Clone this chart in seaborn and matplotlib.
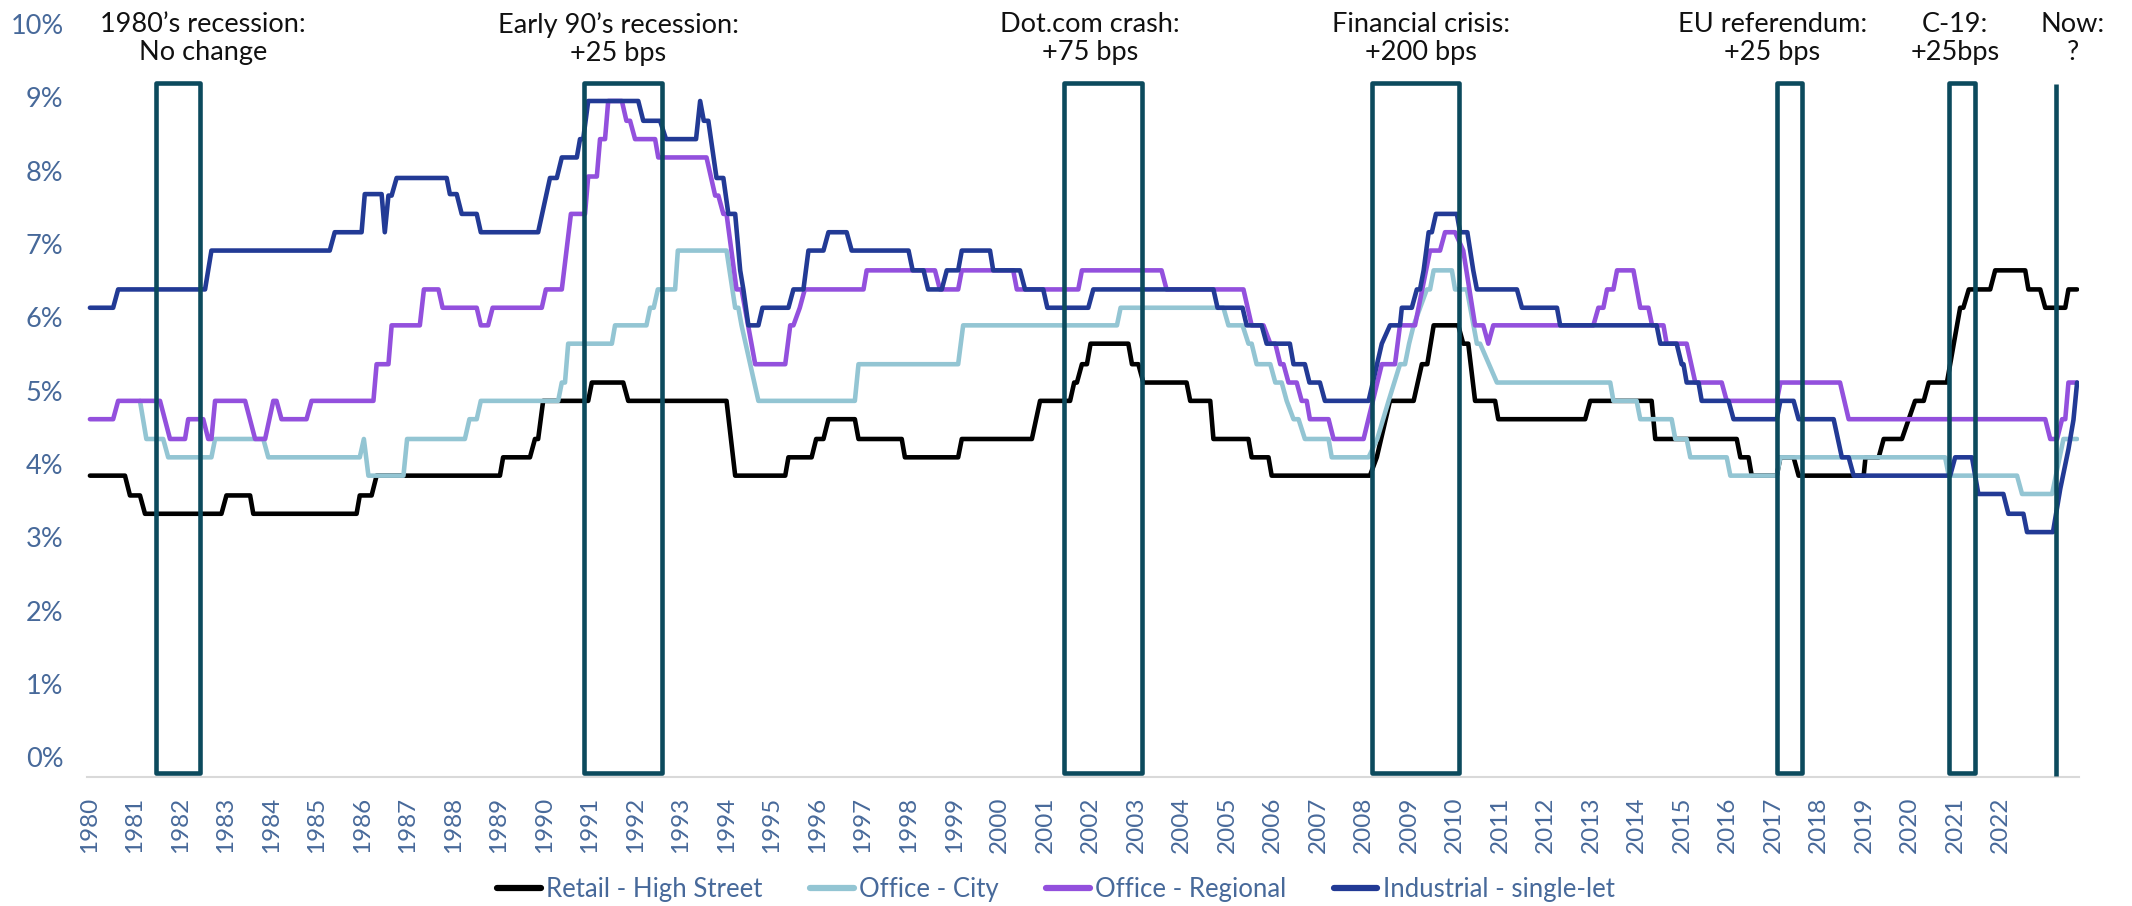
import matplotlib
matplotlib.use("Agg")
import matplotlib.pyplot as plt
from matplotlib.lines import Line2D
from matplotlib.patches import Rectangle
import seaborn as sns
import pandas as pd

# ---- data (yields in %) ----
retail_years = [1980.01, 1980.78, 1980.89, 1981.11, 1981.22, 1982.90, 1983.01, 1983.53, 1983.60, 1985.87,
                1985.94, 1986.20, 1986.31, 1989.02, 1989.09, 1989.68, 1989.79, 1989.86, 1989.97, 1990.96,
                1991.04, 1991.73, 1991.84, 1994.00, 1994.19, 1995.29, 1995.36, 1995.87, 1995.97, 1996.13,
                1996.24, 1996.82, 1996.90, 1997.85, 1997.92, 1999.09, 1999.17, 2000.71, 2000.89, 2001.55,
                2001.64, 2001.70, 2001.81, 2001.92, 2002.00, 2002.83, 2002.91, 2003.05, 2003.16, 2004.11,
                2004.19, 2004.63, 2004.70, 2005.47, 2005.54, 2005.91, 2005.98, 2008.14, 2008.29, 2008.58,
                2009.10, 2009.28, 2009.40, 2009.54, 2010.08, 2010.19, 2010.30, 2010.45, 2010.89, 2010.96,
                2012.87, 2012.98, 2014.33, 2014.41, 2016.20, 2016.28, 2016.46, 2016.53, 2017.08, 2017.16,
                2017.45, 2017.56, 2018.99, 2019.03, 2019.32, 2019.43, 2019.83, 2019.98, 2020.12, 2020.31,
                2020.42, 2020.82, 2020.97, 2021.11, 2021.18, 2021.30, 2021.77, 2021.88, 2022.54, 2022.61,
                2022.87, 2022.98, 2023.42, 2023.49, 2023.68]
retail_yield = [3.84, 3.84, 3.57, 3.57, 3.32, 3.32, 3.57, 3.57, 3.32, 3.32,
                3.57, 3.57, 3.84, 3.84, 4.09, 4.09, 4.34, 4.34, 4.86, 4.86,
                5.11, 5.11, 4.86, 4.86, 3.84, 3.84, 4.09, 4.09, 4.34, 4.34,
                4.61, 4.61, 4.34, 4.34, 4.09, 4.09, 4.34, 4.34, 4.86, 4.86,
                5.11, 5.11, 5.36, 5.36, 5.64, 5.64, 5.36, 5.36, 5.11, 5.11,
                4.86, 4.86, 4.34, 4.34, 4.09, 4.09, 3.84, 3.84, 4.09, 4.86,
                4.86, 5.36, 5.36, 5.89, 5.89, 5.64, 5.64, 4.86, 4.86, 4.61,
                4.61, 4.86, 4.86, 4.34, 4.34, 4.09, 4.09, 3.84, 3.84, 4.09,
                4.09, 3.84, 3.84, 4.09, 4.09, 4.34, 4.34, 4.61, 4.86, 4.86,
                5.11, 5.11, 5.64, 6.13, 6.13, 6.38, 6.38, 6.64, 6.64, 6.38,
                6.38, 6.13, 6.13, 6.38, 6.38]

city_years = [1981.11, 1981.25, 1981.62, 1981.73, 1982.68, 1982.76, 1983.82, 1983.93, 1985.94, 1986.03,
              1986.13, 1986.90, 1986.98, 1988.25, 1988.35, 1988.51, 1988.60, 1990.30, 1990.38, 1990.45,
              1990.52, 1991.48, 1991.55, 1992.24, 1992.32, 1992.40, 1992.49, 1992.87, 1992.93, 1994.00,
              1994.19, 1994.26, 1994.33, 1994.70, 1996.82, 1996.90, 1999.09, 1999.20, 2002.58, 2002.66,
              2004.92, 2005.03, 2005.34, 2005.47, 2005.54, 2005.65, 2005.95, 2006.06, 2006.20, 2006.31,
              2006.46, 2006.57, 2006.71, 2007.23, 2007.30, 2008.11, 2008.30, 2008.55, 2008.80, 2008.91,
              2009.00, 2009.10, 2009.39, 2009.46, 2009.54, 2009.94, 2010.01, 2010.27, 2010.49, 2010.56,
              2010.93, 2013.42, 2013.49, 2014.00, 2014.08, 2014.77, 2014.85, 2015.10, 2015.18, 2015.98,
              2016.06, 2017.08, 2017.16, 2020.78, 2020.86, 2022.36, 2022.47, 2023.13, 2023.38, 2023.68]
city_yield = [4.86, 4.34, 4.34, 4.09, 4.09, 4.34, 4.34, 4.09, 4.09, 4.34,
              3.84, 3.84, 4.34, 4.34, 4.61, 4.61, 4.86, 4.86, 5.11, 5.11,
              5.64, 5.64, 5.89, 5.89, 6.13, 6.13, 6.38, 6.38, 6.91, 6.91,
              6.13, 6.13, 5.89, 4.86, 4.86, 5.36, 5.36, 5.89, 5.89, 6.13,
              6.13, 5.89, 5.89, 5.64, 5.64, 5.36, 5.36, 5.11, 5.11, 4.86,
              4.61, 4.61, 4.34, 4.34, 4.09, 4.09, 4.34, 4.86, 5.36, 5.36,
              5.64, 5.89, 6.38, 6.38, 6.64, 6.64, 6.38, 6.38, 5.64, 5.64,
              5.11, 5.11, 4.86, 4.86, 4.61, 4.61, 4.34, 4.34, 4.09, 4.09,
              3.84, 3.84, 4.09, 4.09, 3.84, 3.84, 3.59, 3.59, 4.34, 4.34]

regional_years = [1980.01, 1980.52, 1980.63, 1981.55, 1981.77, 1982.10, 1982.17, 1982.50, 1982.61, 1982.68,
                  1982.76, 1983.42, 1983.64, 1983.86, 1984.04, 1984.11, 1984.22, 1984.77, 1984.88, 1986.24,
                  1986.31, 1986.57, 1986.64, 1987.26, 1987.35, 1987.67, 1987.76, 1988.51, 1988.60, 1988.76,
                  1988.86, 1989.94, 1990.03, 1990.38, 1990.58, 1990.89, 1990.96, 1991.15, 1991.22, 1991.33,
                  1991.40, 1991.70, 1991.80, 1991.88, 1991.99, 1992.43, 1992.50, 1993.56, 1993.75, 1993.82,
                  1993.93, 1994.00, 1994.22, 1994.33, 1994.63, 1995.29, 1995.40, 1995.47, 1995.61, 1995.72,
                  1997.01, 1997.08, 1998.58, 1998.69, 1999.09, 1999.17, 2000.30, 2000.38, 2001.73, 2001.81,
                  2003.56, 2003.67, 2005.36, 2005.54, 2005.80, 2005.95, 2006.06, 2006.17, 2006.24, 2006.35,
                  2006.53, 2006.64, 2006.75, 2006.82, 2007.23, 2007.34, 2008.00, 2008.40, 2008.69, 2008.80,
                  2009.13, 2009.46, 2009.68, 2009.79, 2010.01, 2010.19, 2010.45, 2010.63, 2010.74, 2010.85,
                  2013.05, 2013.16, 2013.27, 2013.35, 2013.49, 2013.57, 2013.93, 2014.08, 2014.26, 2014.34,
                  2014.59, 2014.66, 2015.10, 2015.29, 2015.87, 2015.98, 2017.08, 2017.16, 2018.47, 2018.66,
                  2022.98, 2023.09, 2023.24, 2023.35, 2023.42, 2023.49, 2023.68]
regional_yield = [4.61, 4.61, 4.86, 4.86, 4.34, 4.34, 4.61, 4.61, 4.34, 4.34,
                  4.86, 4.86, 4.34, 4.34, 4.86, 4.86, 4.61, 4.61, 4.86, 4.86,
                  5.36, 5.36, 5.89, 5.89, 6.38, 6.38, 6.13, 6.13, 5.89, 5.89,
                  6.13, 6.13, 6.38, 6.38, 7.41, 7.41, 7.92, 7.92, 8.43, 8.43,
                  8.95, 8.95, 8.68, 8.68, 8.43, 8.43, 8.18, 8.18, 7.66, 7.66,
                  7.41, 7.41, 6.38, 6.38, 5.36, 5.36, 5.89, 5.89, 6.13, 6.38,
                  6.38, 6.64, 6.64, 6.38, 6.38, 6.64, 6.64, 6.38, 6.38, 6.64,
                  6.64, 6.38, 6.38, 5.89, 5.89, 5.64, 5.64, 5.36, 5.36, 5.11,
                  5.11, 4.86, 4.86, 4.61, 4.61, 4.34, 4.34, 5.36, 5.36, 5.89,
                  5.89, 6.91, 6.91, 7.16, 7.16, 6.91, 5.89, 5.89, 5.64, 5.89,
                  5.89, 6.13, 6.13, 6.38, 6.38, 6.64, 6.64, 6.13, 6.13, 5.89,
                  5.89, 5.64, 5.64, 5.11, 5.11, 4.86, 4.86, 5.11, 5.11, 4.61,
                  4.61, 4.34, 4.34, 4.61, 4.61, 5.11, 5.11]

industrial_years = [1980.01, 1980.52, 1980.63, 1982.54, 1982.68, 1985.28, 1985.39, 1985.98, 1986.05, 1986.42,
                    1986.49, 1986.57, 1986.64, 1986.75, 1987.85, 1987.92, 1988.07, 1988.18, 1988.51, 1988.60,
                    1989.86, 1990.12, 1990.27, 1990.38, 1990.71, 1990.78, 1990.85, 1990.96, 1992.06, 1992.17,
                    1992.54, 1992.67, 1993.33, 1993.42, 1993.50, 1993.60, 1993.78, 1993.93, 1994.04, 1994.19,
                    1994.30, 1994.37, 1994.48, 1994.70, 1994.79, 1995.36, 1995.47, 1995.69, 1995.80, 1996.13,
                    1996.24, 1996.64, 1996.75, 1998.00, 1998.09, 1998.33, 1998.43, 1998.73, 1998.84, 1999.09,
                    1999.17, 1999.79, 1999.86, 2000.45, 2000.56, 2000.96, 2001.05, 2001.95, 2002.06, 2004.70,
                    2004.79, 2005.34, 2005.43, 2005.76, 2005.87, 2006.38, 2006.46, 2006.71, 2006.81, 2007.04,
                    2007.15, 2008.11, 2008.40, 2008.58, 2008.80, 2008.84, 2009.06, 2009.17, 2009.24, 2009.32,
                    2009.43, 2009.50, 2009.59, 2010.05, 2010.12, 2010.28, 2010.41, 2010.49, 2011.37, 2011.48,
                    2012.25, 2012.32, 2014.44, 2014.52, 2014.88, 2014.99, 2015.03, 2015.10, 2015.36, 2015.43,
                    2016.02, 2016.13, 2017.08, 2017.16, 2017.45, 2017.56, 2018.33, 2018.51, 2018.66, 2018.77,
                    2020.89, 2021.00, 2021.37, 2021.51, 2022.06, 2022.17, 2022.50, 2022.58, 2023.15, 2023.31,
                    2023.49, 2023.60, 2023.68]
industrial_yield = [6.13, 6.13, 6.38, 6.38, 6.91, 6.91, 7.16, 7.16, 7.68, 7.68,
                    7.16, 7.66, 7.66, 7.90, 7.90, 7.68, 7.68, 7.41, 7.41, 7.16,
                    7.16, 7.90, 7.90, 8.18, 8.18, 8.43, 8.43, 8.95, 8.95, 8.68,
                    8.68, 8.43, 8.43, 8.95, 8.68, 8.68, 7.90, 7.90, 7.41, 7.41,
                    6.64, 6.38, 5.89, 5.89, 6.13, 6.13, 6.38, 6.38, 6.91, 6.91,
                    7.16, 7.16, 6.91, 6.91, 6.64, 6.64, 6.38, 6.38, 6.64, 6.64,
                    6.91, 6.91, 6.64, 6.64, 6.38, 6.38, 6.13, 6.13, 6.38, 6.38,
                    6.13, 6.13, 5.89, 5.89, 5.64, 5.64, 5.36, 5.36, 5.11, 5.11,
                    4.86, 4.86, 5.64, 5.89, 5.89, 6.13, 6.13, 6.38, 6.38, 6.64,
                    7.16, 7.16, 7.41, 7.41, 7.16, 7.16, 6.64, 6.38, 6.38, 6.13,
                    6.13, 5.89, 5.89, 5.64, 5.64, 5.36, 5.36, 5.11, 5.11, 4.86,
                    4.86, 4.61, 4.61, 4.86, 4.86, 4.61, 4.61, 4.09, 4.09, 3.84,
                    3.84, 4.09, 4.09, 3.59, 3.59, 3.32, 3.32, 3.07, 3.07, 3.66,
                    4.20, 4.60, 5.11]

series_names = ["Retail - High Street", "Office - City", "Office - Regional", "Industrial - single-let"]
series_colors = ["#000000", "#93C5D3", "#9350DD", "#223A95"]

# recession / shock periods (start, end in years) and their captions
event_labels = ["1980’s recession:\nNo change", "Early 90’s recession:\n+25 bps", "Dot.com crash:\n+75 bps",
                "Financial crisis:\n+200 bps", "EU referendum:\n+25 bps", "C-19:\n+25bps", "Now:\n?"]
event_start = [1981.46, 1990.87, 2001.42, 2008.19, 2017.09, 2020.86]
event_end = [1982.43, 1992.58, 2003.13, 2010.10, 2017.64, 2021.44]
now_year = 2023.22

years_ticks = list(range(1980, 2023))
yield_ticks = list(range(0, 11))

# caption anchor (x in years) - layout only
caption_x = [1982.49, 1991.62, 2001.99, 2009.26, 2016.98, 2021.00, 2023.59]

# ---- build long table ----
frames = []
for name, yrs, vals in zip(series_names,
                           [retail_years, city_years, regional_years, industrial_years],
                           [retail_yield, city_yield, regional_yield, industrial_yield]):
    frames.append(pd.DataFrame({"year": yrs, "yield": vals, "series": name}))
df = pd.concat(frames, ignore_index=True)

sns.set_theme(style="white")
plt.rcParams["font.family"] = ["Lato", "DejaVu Sans"]

tick_color = "#47699A"
box_color = "#0C4A5D"

fig = plt.figure(figsize=(21.32, 9.06), dpi=100)
ax = fig.add_axes([0.0409, 0.1424, 0.9342, 0.8311])

sns.lineplot(data=df, x="year", y="yield", hue="series", hue_order=series_names,
             palette=dict(zip(series_names, series_colors)), sort=False, estimator=None,
             linewidth=3.3, legend=False, ax=ax)

# event boxes
for s, e in zip(event_start, event_end):
    ax.add_patch(Rectangle((s, -0.22), e - s, 9.41, fill=False, edgecolor=box_color,
                           linewidth=3.3, joinstyle="round", clip_on=False, zorder=5))
ax.plot([now_year, now_year], [-0.25, 9.18], color=box_color, linewidth=3.3,
        solid_capstyle="butt", clip_on=False, zorder=5)

# captions
for cx, lab in zip(caption_x, event_labels):
    ax.text(cx, 9.80, lab, ha="center", va="center", fontsize=19.5,
            color="#111111", linespacing=1.15, clip_on=False)

# axes styling
ax.set_xlim(1979.95, 2023.72)
ax.set_ylim(-0.27, 10.0)
ax.set_xticks(years_ticks)
ax.set_xticklabels([str(y) for y in years_ticks], rotation=90)
ax.set_yticks(yield_ticks)
ax.set_yticklabels([f"{v}%" for v in yield_ticks])
ax.tick_params(axis="y", length=0, pad=17, labelsize=19.5, labelcolor=tick_color)
ax.tick_params(axis="x", length=0, pad=14, labelsize=17.5, labelcolor=tick_color)
ax.set_xlabel("")
ax.set_ylabel("")
for side in ["left", "top", "right"]:
    ax.spines[side].set_visible(False)
ax.spines["bottom"].set_color("#D9D9D9")
ax.spines["bottom"].set_linewidth(1.5)
ax.grid(False)

handles = [Line2D([0], [0], color=c, linewidth=4.5) for c in series_colors]
leg = fig.legend(handles, series_names, loc="center", bbox_to_anchor=(0.4953, 0.018), ncol=4,
                 frameon=False, fontsize=18.5, handlelength=1.7, handletextpad=0.2, columnspacing=1.85)
for t in leg.get_texts():
    t.set_color(tick_color)

fig.savefig("out.png", dpi=100, facecolor="white")
